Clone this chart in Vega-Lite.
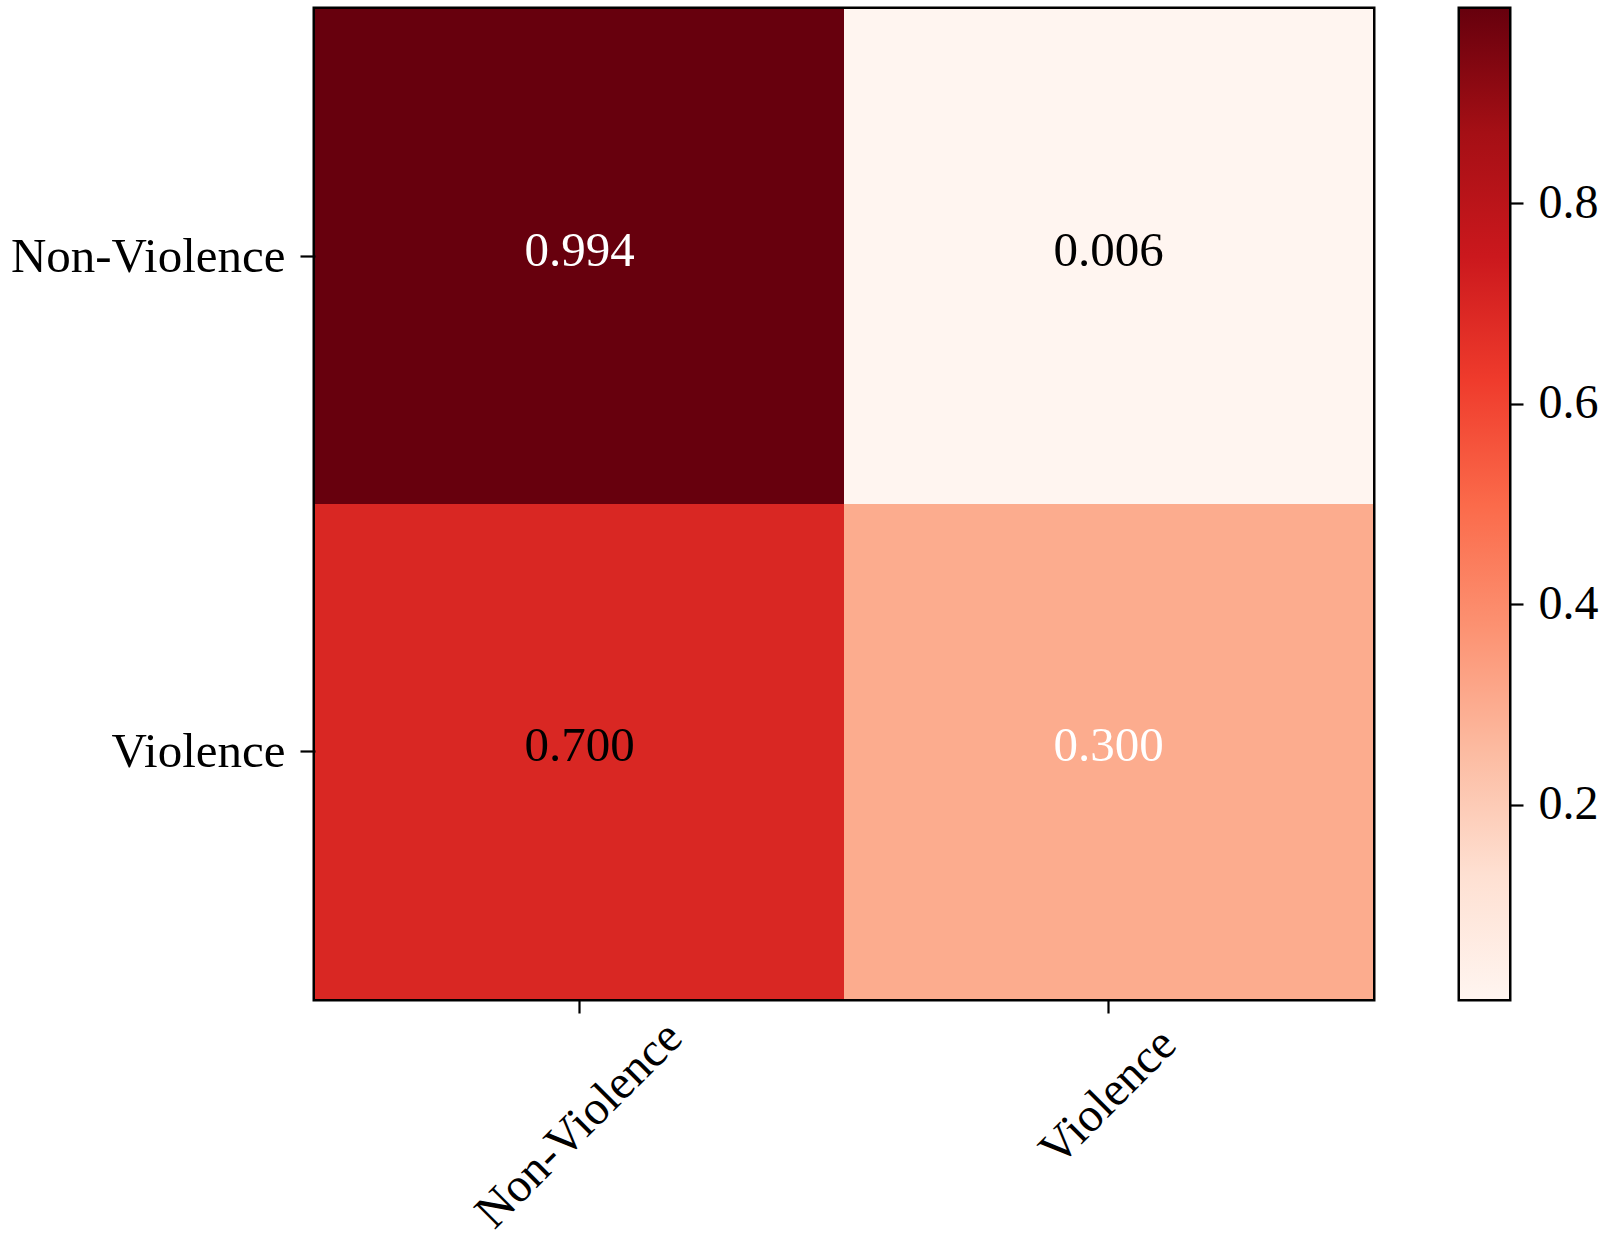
{
  "$schema": "https://vega.github.io/schema/vega-lite/v6.json",
  "padding": {"left": 5, "top": 6, "right": 0, "bottom": 0},
  "background": "white",
  "config": {
    "view": {"stroke": "black", "strokeWidth": 5},
    "font": "Liberation Serif",
    "axis": {
      "labelFont": "Liberation Serif",
      "labelFontSize": 49,
      "labelColor": "black",
      "labelLimit": 0,
      "tickColor": "black",
      "tickWidth": 2.2,
      "domain": false,
      "grid": false
    }
  },
  "spacing": 81,
  "hconcat": [
    {
      "width": 1058,
      "height": 990,
      "data": {
        "values": [
          {"actual": "Non-Violence", "predicted": "Non-Violence", "value": 0.994},
          {"actual": "Non-Violence", "predicted": "Violence", "value": 0.006},
          {"actual": "Violence", "predicted": "Non-Violence", "value": 0.700},
          {"actual": "Violence", "predicted": "Violence", "value": 0.300}
        ]
      },
      "encoding": {
        "x": {
          "field": "predicted",
          "type": "nominal",
          "scale": {"paddingInner": 0, "paddingOuter": 0},
          "axis": {
            "title": null,
            "labelAngle": -45,
            "labelAlign": "center",
            "labelBaseline": "middle",
            "labelFontSize": 48,
            "tickSize": 14,
            "labelPadding": {"condition": {"test": "datum.value === 'Non-Violence'", "value": 112}, "value": 84},
            "labelOverlap": false,
            "labelBound": false
          }
        },
        "y": {
          "field": "actual",
          "type": "nominal",
          "scale": {"paddingInner": 0, "paddingOuter": 0},
          "axis": {
            "title": null,
            "labelAngle": 0,
            "tickSize": 15,
            "labelPadding": 15,
            "minExtent": 307.5,
            "maxExtent": 307.5
          }
        }
      },
      "layer": [
        {
          "mark": {"type": "rect"},
          "encoding": {
            "color": {
              "field": "value",
              "type": "quantitative",
              "scale": {
                "domain": [0.006, 0.994],
                "range": ["#fff5f0", "#fee0d2", "#fcbba1", "#fc9272", "#fb6a4a", "#ef3b2c", "#cb181d", "#a50f15", "#67000d"]
              },
              "legend": null
            }
          }
        },
        {
          "mark": {"type": "text", "fontSize": 49, "font": "Liberation Serif", "baseline": "middle", "dy": -6},
          "encoding": {
            "text": {"field": "value", "type": "quantitative", "format": ".3f"},
            "color": {"condition": {"test": "datum.actual === datum.predicted", "value": "white"}, "value": "black"}
          }
        }
      ]
    },
    {
      "width": 49,
      "height": 990,
      "data": {"values": [{"lo": 0.006, "hi": 0.994, "left": 0, "right": 1}]},
      "mark": {
        "type": "rect",
        "color": {
          "gradient": "linear",
          "x1": 0, "y1": 1, "x2": 0, "y2": 0,
          "stops": [
            {"offset": 0, "color": "#fff5f0"},
            {"offset": 0.125, "color": "#fee0d2"},
            {"offset": 0.25, "color": "#fcbba1"},
            {"offset": 0.375, "color": "#fc9272"},
            {"offset": 0.5, "color": "#fb6a4a"},
            {"offset": 0.625, "color": "#ef3b2c"},
            {"offset": 0.75, "color": "#cb181d"},
            {"offset": 0.875, "color": "#a50f15"},
            {"offset": 1, "color": "#67000d"}
          ]
        }
      },
      "encoding": {
        "x": {"field": "left", "type": "quantitative", "scale": {"domain": [0, 1], "nice": false, "zero": false}, "axis": null},
        "x2": {"field": "right"},
        "y": {
          "field": "lo",
          "type": "quantitative",
          "scale": {"domain": [0.006, 0.994], "nice": false, "zero": false},
          "axis": {"orient": "right", "title": null, "values": [0.2, 0.4, 0.6, 0.8], "format": ".1f", "tickSize": 14, "labelPadding": 15, "labelFontSize": 48}
        },
        "y2": {"field": "hi"}
      }
    }
  ]
}
